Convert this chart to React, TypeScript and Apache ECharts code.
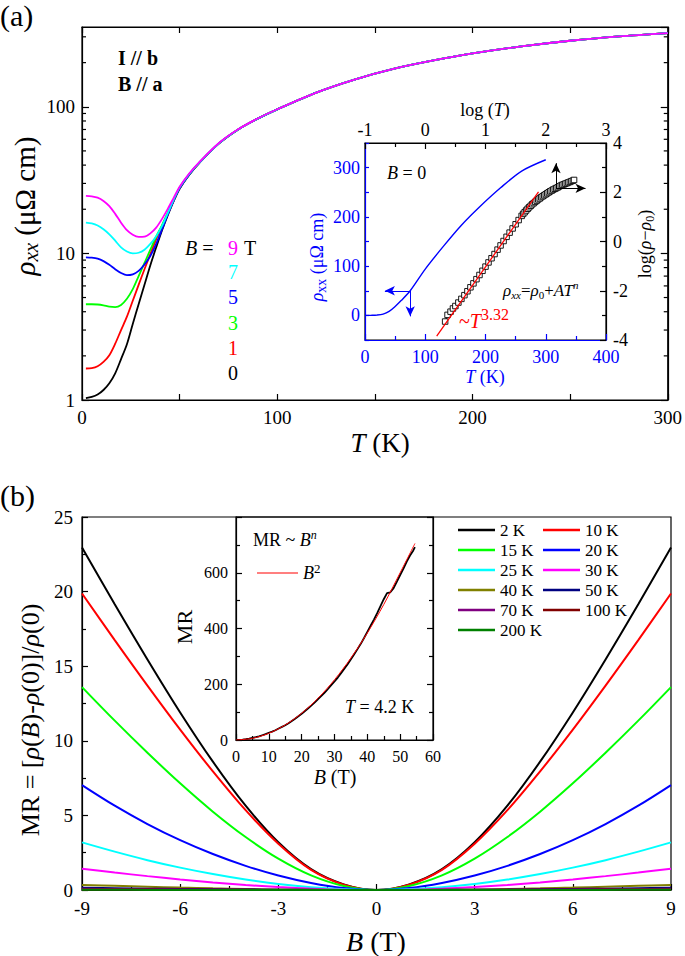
import React, { useEffect, useRef } from 'react';
import * as echarts from 'echarts';

const FONT = "'Liberation Serif', 'Times New Roman', serif";

// ---------- Panel (a): rho_xx(T) at several fields ----------
const tempsA = [2, 5, 8, 11, 14, 17, 20, 23, 26, 29, 32, 35, 38, 41, 44, 47, 50, 55, 60, 70, 80, 90, 100, 120, 140, 160, 180, 200, 225, 250, 275, 300];
const rho0T = [1.03, 1.05, 1.09, 1.17, 1.30, 1.52, 1.90, 2.40, 3.30, 4.50, 6.10, 8.30, 11.0, 14.4, 18.3, 22.8, 27.6, 34.5, 41.3, 56, 70, 83, 96, 125, 154, 182, 207, 231, 258, 282, 302, 318];
const rho1T = [1.64, 1.65, 1.70, 1.82, 2.02, 2.42, 3.00, 3.70, 4.75, 6.10, 7.80, 9.90, 12.5, 15.3, 18.8, 23.0, 27.8, 34.6, 41.4, 56, 70, 83, 96, 125, 154, 182, 207, 231, 258, 282, 302, 318];
const rho3T = [4.50, 4.50, 4.48, 4.42, 4.33, 4.30, 4.45, 4.90, 5.70, 7.00, 8.60, 10.6, 13.0, 15.6, 19.0, 23.2, 27.9, 34.6, 41.4, 56, 70, 83, 96, 125, 154, 182, 207, 231, 258, 282, 302, 318];
const rho5T = [9.40, 9.35, 9.20, 8.85, 8.35, 7.80, 7.35, 7.10, 7.20, 7.60, 8.40, 9.60, 11.6, 14.6, 18.5, 23.0, 27.8, 34.6, 41.4, 56, 70, 83, 96, 125, 154, 182, 207, 231, 258, 282, 302, 318];
const rho7T = [16.2, 16.0, 15.5, 14.6, 13.5, 12.2, 11.0, 10.3, 10.0, 10.1, 10.6, 11.6, 13.1, 15.4, 18.9, 23.4, 28.2, 34.9, 41.6, 56.2, 70, 83, 96, 125, 154, 182, 207, 231, 258, 282, 302, 318];
const rho9T = [24.7, 24.5, 24.0, 22.8, 21.0, 18.6, 16.2, 14.4, 13.4, 12.95, 13.0, 13.7, 15.0, 17.2, 20.2, 24.0, 28.5, 35.2, 41.8, 56.4, 70.2, 83.2, 96.2, 125, 154, 182, 207, 231, 258, 282, 302, 318];
const logMinorTicks = [2, 3, 4, 5, 6, 7, 8, 9, 20, 30, 40, 50, 60, 70, 80, 90, 200, 300];

// inset of (a)
const insetT = [0, 10, 20, 30, 40, 50, 60, 75, 100, 130, 160, 190, 225, 260, 300];
const insetRho = [0, 0.1, 0.6, 2.5, 8, 18, 30, 50, 94, 140, 183, 220, 259, 293, 316];
const sqLogT = [0.33, 0.37, 0.42, 0.46, 0.50, 0.55, 0.60, 0.65, 0.70, 0.75, 0.80, 0.85, 0.90, 0.95, 1.00, 1.05, 1.10, 1.15, 1.20, 1.25, 1.30, 1.35, 1.40, 1.45, 1.50, 1.55, 1.60, 1.625, 1.65, 1.675, 1.70, 1.725, 1.75, 1.775, 1.80, 1.825, 1.85, 1.875, 1.90, 1.925, 1.95, 1.975, 2.00, 2.025, 2.05, 2.075, 2.10, 2.125, 2.15, 2.175, 2.20, 2.225, 2.25, 2.275, 2.30, 2.325, 2.35, 2.375, 2.40, 2.425, 2.45, 2.47];
const sqLogRho = [-3.25, -2.98, -2.85, -2.72, -2.62, -2.48, -2.33, -2.18, -2.02, -1.86, -1.70, -1.53, -1.36, -1.19, -1.02, -0.85, -0.68, -0.51, -0.33, -0.16, 0.02, 0.19, 0.36, 0.53, 0.70, 0.87, 1.04, 1.12, 1.19, 1.26, 1.33, 1.39, 1.45, 1.51, 1.56, 1.61, 1.66, 1.71, 1.75, 1.80, 1.84, 1.88, 1.92, 1.96, 2.00, 2.04, 2.07, 2.11, 2.14, 2.17, 2.20, 2.24, 2.27, 2.30, 2.32, 2.35, 2.37, 2.40, 2.42, 2.45, 2.47, 2.50];
const fitLogT = [0.19, 1.88];
const fitLogRho = [-3.84, 2.02];
const blueArrowFrom = [75, 50];
const blueArrowLeft = [33, 50];
const blueArrowDown = [75, -2];
const blackArrowFrom = [2.17, 2.16];
const blackArrowUp = [2.17, 3.18];
const blackArrowRight = [2.66, 2.16];

// ---------- Panel (b): MR(B) at several temperatures ----------
const fieldB = [-9, -8, -7, -6, -5, -4, -3, -2, -1, 0, 1, 2, 3, 4, 5, 6, 7, 8, 9];
const mr2K = [22.95, 19.15, 15.45, 11.9, 8.6, 5.65, 3.2, 1.4, 0.38, 0, 0.38, 1.4, 3.2, 5.65, 8.6, 11.9, 15.45, 19.15, 22.95];
const mr10K = [19.87, 16.75, 13.7, 10.75, 7.95, 5.35, 3.1, 1.35, 0.36, 0, 0.36, 1.35, 3.1, 5.35, 7.95, 10.75, 13.7, 16.75, 19.87];
const mr15K = [13.6, 11.35, 9.2, 7.15, 5.25, 3.55, 2.1, 0.98, 0.27, 0, 0.27, 0.98, 2.1, 3.55, 5.25, 7.15, 9.2, 11.35, 13.6];
const mr20K = [7.03, 5.65, 4.42, 3.34, 2.41, 1.62, 0.97, 0.47, 0.13, 0, 0.13, 0.47, 0.97, 1.62, 2.41, 3.34, 4.42, 5.65, 7.03];
const mr25K = [3.19, 2.57, 2.0, 1.5, 1.07, 0.7, 0.4, 0.18, 0.05, 0, 0.05, 0.18, 0.4, 0.7, 1.07, 1.5, 2.0, 2.57, 3.19];
const mr30K = [1.43, 1.17, 0.93, 0.71, 0.51, 0.34, 0.2, 0.09, 0.02, 0, 0.02, 0.09, 0.2, 0.34, 0.51, 0.71, 0.93, 1.17, 1.43];
const mr40K = [0.34, 0.28, 0.22, 0.16, 0.11, 0.07, 0.04, 0.02, 0.005, 0, 0.005, 0.02, 0.04, 0.07, 0.11, 0.16, 0.22, 0.28, 0.34];
const mr50K = [0.15, 0.12, 0.09, 0.07, 0.05, 0.03, 0.02, 0.01, 0, 0, 0, 0.01, 0.02, 0.03, 0.05, 0.07, 0.09, 0.12, 0.15];
const mr70K = [0.08, 0.065, 0.05, 0.04, 0.03, 0.02, 0.01, 0.005, 0, 0, 0, 0.005, 0.01, 0.02, 0.03, 0.04, 0.05, 0.065, 0.08];
const mr100K = [0.04, 0.033, 0.026, 0.02, 0.014, 0.009, 0.005, 0.002, 0, 0, 0, 0.002, 0.005, 0.009, 0.014, 0.02, 0.026, 0.033, 0.04];
const mr200K = [0.012, 0.01, 0.008, 0.006, 0.004, 0.003, 0.002, 0.001, 0, 0, 0, 0.001, 0.002, 0.003, 0.004, 0.006, 0.008, 0.01, 0.012];

// inset of (b)
const highB = [0, 1, 2, 3, 4, 5, 6, 7, 8, 9, 10, 11, 12, 13, 14, 15, 16, 17, 18, 19, 20, 21, 22, 23, 24, 25, 26, 27, 28, 29, 30, 31, 32, 33, 34, 35, 36, 37, 38, 39, 40, 41, 42, 43, 44, 45, 46, 47, 48, 49, 50, 51, 52, 53, 54, 54.5];
const highMR = [0, 0.5, 1.5, 3, 5, 7.5, 10, 13, 17, 21, 26, 30, 35, 41, 47, 53, 60, 68, 76, 85, 94, 104, 114, 124, 135, 147, 158, 170, 183, 197, 210, 224, 240, 256, 272, 290, 308, 326, 345, 366, 388, 410, 432, 455, 480, 505, 527, 530, 545, 568, 592, 615, 640, 662, 680, 692];
const fitB = [0, 5, 10, 15, 20, 25, 30, 35, 40, 45, 50, 54.5];
const fitMR = [0, 6, 24, 54, 96, 150, 216, 294, 384, 486, 600, 705];

const topNames = ['0 T', '1 T', '3 T', '5 T', '7 T', '9 T'];
const topColors = ['#000000', '#ff0000', '#00ff00', '#0000ff', '#00ffff', '#ff00ff'];
const topRho = [rho0T, rho1T, rho3T, rho5T, rho7T, rho9T];

const botNames = ['2 K', '10 K', '15 K', '20 K', '25 K', '30 K', '40 K', '50 K', '70 K', '100 K', '200 K'];
const botColors = ['#000000', '#ff0000', '#00ff00', '#0000ff', '#00ffff', '#ff00ff', '#808000', '#000080', '#800080', '#800000', '#008000'];
const botMR = [mr2K, mr10K, mr15K, mr20K, mr25K, mr30K, mr40K, mr50K, mr70K, mr100K, mr200K];

const rich = (size: number, color = '#000', smallRatio = 0.66, lh = 4) => {
  const small = Math.round(size * smallRatio);
  return {
    n: { fontFamily: FONT, fontSize: size, lineHeight: size + lh, color, fill: color },
    i: { fontFamily: FONT, fontSize: size, fontStyle: 'italic', lineHeight: size + lh, color, fill: color },
    sub: { fontFamily: FONT, fontSize: small, lineHeight: small, verticalAlign: 'bottom', color, fill: color },
    subi: { fontFamily: FONT, fontSize: small, fontStyle: 'italic', lineHeight: small, verticalAlign: 'bottom', color, fill: color },
    sup: { fontFamily: FONT, fontSize: small, lineHeight: small, verticalAlign: 'top', color, fill: color },
    supi: { fontFamily: FONT, fontSize: small, fontStyle: 'italic', lineHeight: small, verticalAlign: 'top', color, fill: color },
  };
};

const txt = (x: number, y: number, text: string, size: number, opts: any = {}) => {
  const color = opts.color || '#000';
  return {
    type: 'text',
    x,
    y,
    rotation: opts.rotation || 0,
    z: 100,
    style: {
      text,
      fill: color,
      fontFamily: FONT,
      fontSize: size,
      fontWeight: opts.bold ? 'bold' : 'normal',
      align: opts.align || 'left',
      verticalAlign: opts.valign || 'middle',
      rich: rich(size, color, opts.smallRatio || 0.66, opts.lh || 4),
    },
  };
};

const axisBase = (color = '#000', size = 19, margin = 8) => ({
  axisLine: { show: true, onZero: false, lineStyle: { color, width: 1.2 } },
  axisTick: { show: true, inside: true, length: 6, lineStyle: { color, width: 1.2 } },
  minorTick: { show: false },
  splitLine: { show: false },
  minorSplitLine: { show: false },
  axisLabel: { color, fontFamily: FONT, fontSize: size, margin },
});

const minor = (color = '#000', length = 4) => ({
  show: true,
  splitNumber: 2,
  length,
  lineStyle: { color, width: 1.2 },
});

const buildOption = () => {
  const gridStyle = { show: true, borderColor: '#000', borderWidth: 1.2, backgroundColor: 'transparent', containLabel: false };
  const xAxis: any[] = [
    { ...axisBase('#000', 19, 8), gridIndex: 0, type: 'value', min: 0, max: 300, interval: 100, minorTick: minor('#000', 6) },
    { ...axisBase(), gridIndex: 0, type: 'value', position: 'top', min: 0, max: 300, interval: 100, minorTick: minor('#000', 6), axisLabel: { show: false } },
    { ...axisBase('#0000ff', 18, 8), gridIndex: 1, type: 'value', min: 0, max: 400, interval: 100, minorTick: minor('#0000ff', 4) },
    { ...axisBase('#000', 18, 4), gridIndex: 1, type: 'value', position: 'top', min: -1, max: 3, interval: 1, minorTick: minor('#000', 4) },
    { ...axisBase('#000', 19, 9), gridIndex: 2, type: 'value', min: -9, max: 9, interval: 3, minorTick: minor('#000', 4) },
    { ...axisBase('#000', 16, 8), gridIndex: 3, type: 'value', min: 0, max: 60, interval: 10, minorTick: minor('#000', 4) },
  ];
  const logLabel = (v: number) => (v === 1 || v === 10 || v === 100 ? String(v) : '');
  const yAxis: any[] = [
    { ...axisBase('#000', 19, 7), gridIndex: 0, type: 'log', logBase: 10, min: 1, max: 350, axisTick: { show: true, inside: true, length: 7, lineStyle: { color: '#000', width: 1.2 } }, axisLabel: { color: '#000', fontFamily: FONT, fontSize: 19, margin: 7, formatter: logLabel, showMaxLabel: false } },
    { ...axisBase(), gridIndex: 0, type: 'log', logBase: 10, min: 1, max: 350, position: 'right', axisTick: { show: true, inside: true, length: 7, lineStyle: { color: '#000', width: 1.2 } }, axisLabel: { show: false } },
    { ...axisBase('#0000ff', 18, 5), gridIndex: 1, type: 'value', min: -50, max: 350, interval: 50, axisTick: { show: true, inside: true, length: 4, lineStyle: { color: '#0000ff', width: 1.2 } }, axisLabel: { color: '#0000ff', fontFamily: FONT, fontSize: 18, margin: 5, formatter: (v: number) => (v % 100 === 0 && v >= 0 && v <= 300 ? String(v) : '') } },
    { ...axisBase('#000', 18, 7), gridIndex: 1, type: 'value', position: 'right', min: -4, max: 4, interval: 2, minorTick: minor('#000', 4), axisLabel: { color: '#000', fontFamily: FONT, fontSize: 18, margin: 7, verticalAlign: 'bottom', lineHeight: 18 } },
    { ...axisBase('#000', 19, 9), gridIndex: 2, type: 'value', min: 0, max: 25, interval: 5, minorTick: minor('#000', 4) },
    { ...axisBase('#000', 16, 8), gridIndex: 3, type: 'value', min: 0, max: 800, interval: 200, minorTick: minor('#000', 4), axisLabel: { color: '#000', fontFamily: FONT, fontSize: 16, margin: 8, showMaxLabel: false, formatter: (v: number) => (v < 800 ? String(v) : '') } },
    { ...axisBase(), gridIndex: 3, type: 'value', position: 'right', min: 0, max: 800, interval: 200, minorTick: minor('#000', 4), axisLabel: { show: false } },
  ];
  // keep right-axis labels centred on ticks
  yAxis[3].axisLabel = { color: '#000', fontFamily: FONT, fontSize: 18, margin: 7 };

  const series: any[] = [];
  topRho.forEach((arr, k) => {
    series.push({
      name: topNames[k],
      type: 'line',
      xAxisIndex: 0,
      yAxisIndex: 0,
      data: tempsA.map((t, i) => [t, arr[i]]),
      smooth: 0.3,
      showSymbol: false,
      color: topColors[k],
      lineStyle: { color: topColors[k], width: 1.8 },
      z: 3,
    });
  });
  series.push({
    type: 'custom',
    xAxisIndex: 0,
    yAxisIndex: 0,
    silent: true,
    z: 6,
    data: logMinorTicks.map((v) => [0, v]),
    renderItem: (_p: any, api: any) => {
      const v = api.value(1);
      const l = api.coord([0, v]);
      const r = api.coord([300, v]);
      return {
        type: 'group',
        children: [
          { type: 'line', shape: { x1: l[0], y1: l[1], x2: l[0] + 4, y2: l[1] }, style: { stroke: '#000', lineWidth: 1.2 } },
          { type: 'line', shape: { x1: r[0] - 4, y1: r[1], x2: r[0], y2: r[1] }, style: { stroke: '#000', lineWidth: 1.2 } },
        ],
      };
    },
  });
  // inset (a)
  series.push({
    name: 'rho B=0',
    type: 'line',
    xAxisIndex: 2,
    yAxisIndex: 2,
    data: insetT.map((t, i) => [t, insetRho[i]]),
    smooth: 0.3,
    showSymbol: false,
    color: '#0000ff',
    lineStyle: { color: '#0000ff', width: 1.4 },
    markLine: {
      silent: true,
      symbol: ['none', 'arrow'],
      symbolSize: [7, 10],
      label: { show: false },
      lineStyle: { color: '#0000ff', width: 1, type: 'solid' },
      data: [
        [{ coord: blueArrowFrom }, { coord: blueArrowLeft }],
        [{ coord: blueArrowFrom }, { coord: blueArrowDown }],
      ],
    },
  });
  series.push({
    name: 'log rho',
    type: 'line',
    xAxisIndex: 3,
    yAxisIndex: 3,
    data: sqLogT.map((t, i) => [t, sqLogRho[i]]),
    showSymbol: true,
    symbol: 'rect',
    symbolSize: 5.5,
    color: '#000',
    itemStyle: { color: '#fff', borderColor: '#000', borderWidth: 0.9 },
    lineStyle: { color: '#000', width: 1.2 },
    z: 3,
    markLine: {
      silent: true,
      symbol: ['none', 'arrow'],
      symbolSize: [7, 10],
      label: { show: false },
      lineStyle: { color: '#000', width: 1, type: 'solid' },
      data: [
        [{ coord: blackArrowFrom }, { coord: blackArrowUp }],
        [{ coord: blackArrowFrom }, { coord: blackArrowRight }],
      ],
    },
  });
  series.push({
    name: 'fit T332',
    type: 'line',
    xAxisIndex: 3,
    yAxisIndex: 3,
    data: fitLogT.map((t, i) => [t, fitLogRho[i]]),
    showSymbol: false,
    color: '#ff0000',
    lineStyle: { color: '#ff0000', width: 1.3 },
    z: 4,
  });
  // panel (b)
  botMR.forEach((arr, k) => {
    series.push({
      name: botNames[k],
      type: 'line',
      xAxisIndex: 4,
      yAxisIndex: 4,
      data: fieldB.map((b, i) => [b, arr[i]]),
      smooth: 0.35,
      showSymbol: false,
      color: botColors[k],
      itemStyle: { color: botColors[k] },
      lineStyle: { color: botColors[k], width: 2 },
      z: 3,
    });
  });
  series.push({
    name: 'MR 4.2K',
    type: 'line',
    xAxisIndex: 5,
    yAxisIndex: 5,
    data: highB.map((b, i) => [b, highMR[i]]),
    showSymbol: false,
    color: '#000',
    lineStyle: { color: '#000', width: 1.8 },
    z: 3,
  });
  series.push({
    name: 'B2',
    type: 'line',
    xAxisIndex: 5,
    yAxisIndex: 5,
    data: fitB.map((b, i) => [b, fitMR[i]]),
    smooth: 0.3,
    showSymbol: false,
    color: '#ff0000',
    itemStyle: { color: '#ff0000' },
    lineStyle: { color: '#ff0000', width: 1 },
    z: 4,
  });

  const legendText = { fontFamily: FONT, fontSize: 17, lineHeight: 20, color: '#000' };
  const legend: any[] = [
    { left: 458, top: 520, orient: 'vertical', padding: 0, itemGap: 0, icon: 'rect', itemWidth: 37, itemHeight: 2.5, selectedMode: false, data: ['2 K', '15 K', '25 K', '40 K', '70 K', '200 K'], textStyle: legendText },
    { left: 543, top: 520, orient: 'vertical', padding: 0, itemGap: 0, icon: 'rect', itemWidth: 37, itemHeight: 2.5, selectedMode: false, data: ['10 K', '20 K', '30 K', '50 K', '100 K'], textStyle: legendText },
    {
      left: 257, top: 562, orient: 'vertical', padding: 0, icon: 'rect', itemWidth: 41, itemHeight: 1.2, selectedMode: false, data: ['B2'],
      formatter: () => '{i|B}{sup|2}',
      textStyle: { fontFamily: FONT, fontSize: 18, color: '#000', rich: rich(18, '#000', 0.72) },
    },
  ];

  const graphic = [
    txt(0, 0, '(a)', 30, { valign: 'top' }),
    txt(118, 58, 'I // b', 20, { bold: true }),
    txt(118, 84, 'B // a', 20, { bold: true }),
    txt(185, 248, '{i|B}{n| = }', 20),
    txt(228, 248, '9', 20, { color: '#ff00ff' }),
    txt(244, 248, 'T', 20),
    txt(228, 272, '7', 20, { color: '#00ffff' }),
    txt(228, 297, '5', 20, { color: '#0000ff' }),
    txt(228, 323, '3', 20, { color: '#00ff00' }),
    txt(228, 348, '1', 20, { color: '#ff0000' }),
    txt(228, 373, '0', 20),
    txt(25, 206, '{i|ρ}{subi|xx}{n| (μΩ cm)}', 29, { align: 'center', rotation: Math.PI / 2, smallRatio: 0.72 }),
    txt(380, 443, '{i|T}{n| (K)}', 27, { align: 'center' }),
    // inset (a)
    txt(387, 173, '{i|B}{n| = 0}', 18),
    txt(485, 110, '{n|log (}{i|T}{n|)}', 18, { align: 'center' }),
    txt(485, 377, '{i|T}{n| (K)}', 18, { align: 'center', color: '#0000ff' }),
    txt(317, 257, '{i|ρ}{sub|xx}{n| (μΩ cm)}', 18, { align: 'center', rotation: Math.PI / 2, color: '#0000ff', smallRatio: 0.8 }),
    txt(645, 244, '{n|log(}{i|ρ}{n|−}{i|ρ}{sub|0}{n|)}', 18, { align: 'center', rotation: Math.PI / 2 }),
    txt(503, 290, '{i|ρ}{subi|xx}{n|=}{i|ρ}{sub|0}{n|+}{i|AT}{supi|n}', 17),
    txt(459, 321, '{n|~}{i|T}{sup|3.32}', 20, { color: '#ff0000', smallRatio: 0.8, lh: 10 }),
    // panel (b)
    txt(0, 480, '(b)', 30, { valign: 'top' }),
    txt(30, 720, '{n|MR = [}{i|ρ}{n|(}{i|B}{n|)-}{i|ρ}{n|(0)]/}{i|ρ}{n|(0)}', 26, { align: 'center', rotation: Math.PI / 2 }),
    txt(376, 941, '{i|B}{n| (T)}', 28, { align: 'center' }),
    txt(253, 540, '{n|MR ~ }{i|B}{supi|n}', 18),
    txt(345, 707, '{i|T}{n| = 4.2 K}', 18),
    txt(184, 627, 'MR', 22, { align: 'center', rotation: Math.PI / 2 }),
    txt(335, 777, '{i|B}{n| (T)}', 20, { align: 'center' }),
  ];

  return {
    animation: false,
    backgroundColor: '#fff',
    textStyle: { fontFamily: FONT },
    grid: [
      { ...gridStyle, left: 82, top: 27, width: 588, height: 373 },
      { ...gridStyle, left: 365, top: 143, width: 241, height: 197 },
      { ...gridStyle, left: 82, top: 517, width: 589, height: 373 },
      { ...gridStyle, left: 236, top: 517, width: 197, height: 223 },
    ],
    xAxis,
    yAxis,
    legend,
    series,
    graphic: { elements: graphic },
  };
};

export default function App() {
  const ref = useRef<HTMLDivElement>(null);
  useEffect(() => {
    document.body.style.margin = '0';
    const chart = echarts.init(ref.current as HTMLDivElement, null, { renderer: 'svg' });
    chart.setOption(buildOption() as any);
    return () => {
      chart.dispose();
    };
  }, []);
  return <div ref={ref} style={{ width: 685, height: 956, background: '#fff' }} />;
}
